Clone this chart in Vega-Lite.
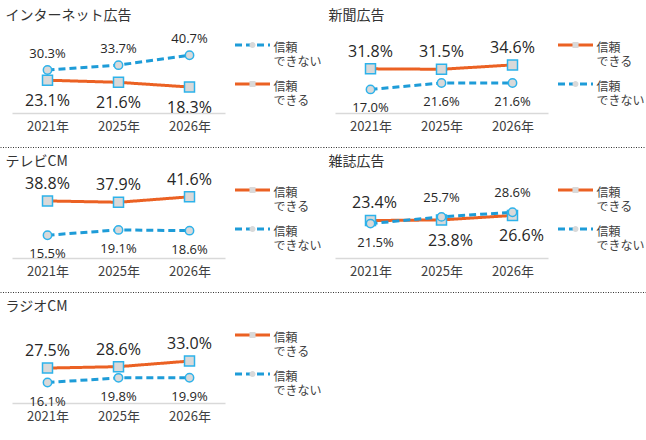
{
  "$schema": "https://vega.github.io/schema/vega-lite/v6.json",
  "padding": 0,
  "background": "white",
  "config": {"view": {"stroke": null}},
  "data": {"values": [
    {"media": "インターネット広告", "series": "信頼できる", "year": "2021年", "value": 0.231},
    {"media": "インターネット広告", "series": "信頼できる", "year": "2025年", "value": 0.216},
    {"media": "インターネット広告", "series": "信頼できる", "year": "2026年", "value": 0.183},
    {"media": "インターネット広告", "series": "信頼できない", "year": "2021年", "value": 0.303},
    {"media": "インターネット広告", "series": "信頼できない", "year": "2025年", "value": 0.337},
    {"media": "インターネット広告", "series": "信頼できない", "year": "2026年", "value": 0.407},
    {"media": "新聞広告", "series": "信頼できる", "year": "2021年", "value": 0.318},
    {"media": "新聞広告", "series": "信頼できる", "year": "2025年", "value": 0.315},
    {"media": "新聞広告", "series": "信頼できる", "year": "2026年", "value": 0.346},
    {"media": "新聞広告", "series": "信頼できない", "year": "2021年", "value": 0.170},
    {"media": "新聞広告", "series": "信頼できない", "year": "2025年", "value": 0.216},
    {"media": "新聞広告", "series": "信頼できない", "year": "2026年", "value": 0.216},
    {"media": "テレビCM", "series": "信頼できる", "year": "2021年", "value": 0.388},
    {"media": "テレビCM", "series": "信頼できる", "year": "2025年", "value": 0.379},
    {"media": "テレビCM", "series": "信頼できる", "year": "2026年", "value": 0.416},
    {"media": "テレビCM", "series": "信頼できない", "year": "2021年", "value": 0.155},
    {"media": "テレビCM", "series": "信頼できない", "year": "2025年", "value": 0.191},
    {"media": "テレビCM", "series": "信頼できない", "year": "2026年", "value": 0.186},
    {"media": "雑誌広告", "series": "信頼できる", "year": "2021年", "value": 0.234},
    {"media": "雑誌広告", "series": "信頼できる", "year": "2025年", "value": 0.238},
    {"media": "雑誌広告", "series": "信頼できる", "year": "2026年", "value": 0.266},
    {"media": "雑誌広告", "series": "信頼できない", "year": "2021年", "value": 0.215},
    {"media": "雑誌広告", "series": "信頼できない", "year": "2025年", "value": 0.257},
    {"media": "雑誌広告", "series": "信頼できない", "year": "2026年", "value": 0.286},
    {"media": "ラジオCM", "series": "信頼できる", "year": "2021年", "value": 0.275},
    {"media": "ラジオCM", "series": "信頼できる", "year": "2025年", "value": 0.286},
    {"media": "ラジオCM", "series": "信頼できる", "year": "2026年", "value": 0.330},
    {"media": "ラジオCM", "series": "信頼できない", "year": "2021年", "value": 0.161},
    {"media": "ラジオCM", "series": "信頼できない", "year": "2025年", "value": 0.198},
    {"media": "ラジオCM", "series": "信頼できない", "year": "2026年", "value": 0.199}
  ]},
  "columns": 2,
  "spacing": 0,
  "bounds": "flush",
  "align": "each",
  "resolve": {
    "scale": {"color": "independent", "strokeDash": "independent", "shape": "independent"},
    "legend": {"color": "independent", "strokeDash": "independent", "shape": "independent"}
  },
  "concat": [
    {
      "width": 323, "height": 147,
      "transform": [{"filter": "datum.media == 'インターネット広告'"}],
      "resolve": {"scale": {"x": "independent"}, "axis": {"x": "independent"}},
      "layer": [
        {
          "encoding": {
            "x": {"field": "year", "type": "ordinal", "scale": {"type": "point", "range": [12, 225], "padding": 0.5},
                  "axis": {"title": null, "orient": "bottom", "offset": -34, "domainColor": "#D9D9D9", "domainWidth": 1.5, "ticks": false, "labelFont": "Noto Sans CJK JP", "labelFontSize": 13, "labelColor": "#404040", "labelPadding": 7, "labelAngle": 0, "grid": false}},
            "y": {"field": "value", "type": "quantitative", "scale": {"domain": [0, 0.493], "range": [113, 43]}, "axis": null}
          },
          "layer": [
            {"mark": {"type": "line", "strokeWidth": 3},
             "encoding": {
               "color": {"field": "series", "type": "nominal", "scale": {"domain": ["信頼できない", "信頼できる"], "range": ["#1E9CD8", "#EB6123"]},
                         "legend": {"orient": "none", "legendX": 233.5, "legendY": 28.5, "title": null, "padding": 0, "rowPadding": -4, "symbolType": "M-1,-0.143H1", "symbolSize": 1225, "symbolStrokeWidth": 3, "labelExpr": "datum.label == '信頼できる' ? ['信頼','できる'] : ['信頼','できない']", "labelFont": "Noto Sans CJK JP", "labelFontSize": 12, "labelColor": "#404040", "labelOffset": 2}},
               "strokeDash": {"field": "series", "type": "nominal", "scale": {"domain": ["信頼できない", "信頼できる"], "range": [[7, 4], [1, 0]]},
                         "legend": {"orient": "none", "legendX": 233.5, "legendY": 28.5, "title": null, "padding": 0, "rowPadding": -4, "symbolType": "M-1,-0.143H1", "symbolSize": 1225, "symbolStrokeWidth": 3, "labelExpr": "datum.label == '信頼できる' ? ['信頼','できる'] : ['信頼','できない']", "labelFont": "Noto Sans CJK JP", "labelFontSize": 12, "labelColor": "#404040", "labelOffset": 2}}
             }},
            {"transform": [{"filter": "datum.series == '信頼できる'"}], "mark": {"type": "point", "shape": "square", "size": 100, "filled": true, "fill": "#D9D9D9", "stroke": "#2DB2EA", "strokeWidth": 1.5, "opacity": 1}},
            {"transform": [{"filter": "datum.series == '信頼できない'"}], "mark": {"type": "point", "shape": "circle", "size": 70, "filled": true, "fill": "#D9D9D9", "stroke": "#2DB2EA", "strokeWidth": 1.5, "opacity": 1}},
            {"transform": [{"filter": "false"}], "mark": {"type": "point", "filled": true, "fill": "#D9D9D9", "stroke": "#2DB2EA", "strokeWidth": 1.5},
             "encoding": {"shape": {"field": "series", "type": "nominal",
               "scale": {"domain": ["信頼できる", "信頼できない"], "range": ["M-0.165,-0.302H0.165V0.028H-0.165Z", "M0.165,-0.137A0.165,0.165,0,1,1,-0.165,-0.137A0.165,0.165,0,1,1,0.165,-0.137Z"]},
               "legend": {"orient": "none", "legendX": 233.5, "legendY": 28.5, "title": null, "padding": 0, "rowPadding": -4, "values": ["信頼できない", "信頼できる"], "symbolSize": 1332.25, "symbolStrokeWidth": 1.5, "symbolFillColor": "#D9D9D9", "symbolStrokeColor": "#2DB2EA", "symbolOpacity": 1, "labelExpr": "datum.label == '信頼できる' ? ['信頼','できる'] : ['信頼','できない']", "labelFont": "Noto Sans CJK JP", "labelFontSize": 12, "labelOpacity": 0, "labelOffset": 2}}}},
            {"transform": [{"filter": "datum.series == '信頼できない'"}], "mark": {"type": "text", "font": "Open Sans", "fontSize": 13, "color": "#262626", "baseline": "middle", "dy": -16},
             "encoding": {"text": {"field": "value", "type": "quantitative", "format": ".1%"}}},
            {"transform": [{"filter": "datum.series == '信頼できる'"}], "mark": {"type": "text", "font": "Open Sans", "fontSize": 16, "color": "#262626", "baseline": "middle", "dy": 21},
             "encoding": {"text": {"field": "value", "type": "quantitative", "format": ".1%"}}}
          ]
        },
        {
          "mark": {"type": "point", "opacity": 0},
          "encoding": {"x": {"field": "year", "type": "ordinal", "scale": {"type": "point", "range": [0, 323]},
                             "axis": {"orient": "top", "title": "インターネット広告", "titleX": 5, "titleY": 15.5, "titleAlign": "left", "titleAnchor": "start", "titleBaseline": "middle", "titleFont": "Noto Sans CJK JP", "titleFontSize": 14, "titleFontWeight": "normal", "titleColor": "#333333", "labels": false, "ticks": false, "grid": false, "domain": false}}}
        }
      ]
    },
    {
      "width": 323, "height": 147,
      "transform": [{"filter": "datum.media == '新聞広告'"}],
      "resolve": {"scale": {"x": "independent"}, "axis": {"x": "independent"}},
      "layer": [
        {
          "encoding": {
            "x": {"field": "year", "type": "ordinal", "scale": {"type": "point", "range": [12, 225], "padding": 0.5},
                  "axis": {"title": null, "orient": "bottom", "offset": -34, "domainColor": "#D9D9D9", "domainWidth": 1.5, "ticks": false, "labelFont": "Noto Sans CJK JP", "labelFontSize": 13, "labelColor": "#404040", "labelPadding": 7, "labelAngle": 0, "grid": false}},
            "y": {"field": "value", "type": "quantitative", "scale": {"domain": [0, 0.504], "range": [113, 43]}, "axis": null}
          },
          "layer": [
            {"mark": {"type": "line", "strokeWidth": 3},
             "encoding": {
               "color": {"field": "series", "type": "nominal", "scale": {"domain": ["信頼できる", "信頼できない"], "range": ["#EB6123", "#1E9CD8"]},
                         "legend": {"orient": "none", "legendX": 233.5, "legendY": 28.5, "title": null, "padding": 0, "rowPadding": -4, "symbolType": "M-1,-0.143H1", "symbolSize": 1225, "symbolStrokeWidth": 3, "labelExpr": "datum.label == '信頼できる' ? ['信頼','できる'] : ['信頼','できない']", "labelFont": "Noto Sans CJK JP", "labelFontSize": 12, "labelColor": "#404040", "labelOffset": 2}},
               "strokeDash": {"field": "series", "type": "nominal", "scale": {"domain": ["信頼できる", "信頼できない"], "range": [[1, 0], [7, 4]]},
                         "legend": {"orient": "none", "legendX": 233.5, "legendY": 28.5, "title": null, "padding": 0, "rowPadding": -4, "symbolType": "M-1,-0.143H1", "symbolSize": 1225, "symbolStrokeWidth": 3, "labelExpr": "datum.label == '信頼できる' ? ['信頼','できる'] : ['信頼','できない']", "labelFont": "Noto Sans CJK JP", "labelFontSize": 12, "labelColor": "#404040", "labelOffset": 2}}
             }},
            {"transform": [{"filter": "datum.series == '信頼できる'"}], "mark": {"type": "point", "shape": "square", "size": 100, "filled": true, "fill": "#D9D9D9", "stroke": "#2DB2EA", "strokeWidth": 1.5, "opacity": 1}},
            {"transform": [{"filter": "datum.series == '信頼できない'"}], "mark": {"type": "point", "shape": "circle", "size": 70, "filled": true, "fill": "#D9D9D9", "stroke": "#2DB2EA", "strokeWidth": 1.5, "opacity": 1}},
            {"transform": [{"filter": "false"}], "mark": {"type": "point", "filled": true, "fill": "#D9D9D9", "stroke": "#2DB2EA", "strokeWidth": 1.5},
             "encoding": {"shape": {"field": "series", "type": "nominal",
               "scale": {"domain": ["信頼できない", "信頼できる"], "range": ["M0.165,-0.137A0.165,0.165,0,1,1,-0.165,-0.137A0.165,0.165,0,1,1,0.165,-0.137Z", "M-0.165,-0.302H0.165V0.028H-0.165Z"]},
               "legend": {"orient": "none", "legendX": 233.5, "legendY": 28.5, "title": null, "padding": 0, "rowPadding": -4, "values": ["信頼できる", "信頼できない"], "symbolSize": 1332.25, "symbolStrokeWidth": 1.5, "symbolFillColor": "#D9D9D9", "symbolStrokeColor": "#2DB2EA", "symbolOpacity": 1, "labelExpr": "datum.label == '信頼できる' ? ['信頼','できる'] : ['信頼','できない']", "labelFont": "Noto Sans CJK JP", "labelFontSize": 12, "labelOpacity": 0, "labelOffset": 2}}}},
            {"transform": [{"filter": "datum.series == '信頼できる'"}], "mark": {"type": "text", "font": "Open Sans", "fontSize": 16, "color": "#262626", "baseline": "middle", "dy": -17},
             "encoding": {"text": {"field": "value", "type": "quantitative", "format": ".1%"}}},
            {"transform": [{"filter": "datum.series == '信頼できない'"}], "mark": {"type": "text", "font": "Open Sans", "fontSize": 13, "color": "#262626", "baseline": "middle", "dy": 19},
             "encoding": {"text": {"field": "value", "type": "quantitative", "format": ".1%"}}}
          ]
        },
        {
          "mark": {"type": "point", "opacity": 0},
          "encoding": {"x": {"field": "year", "type": "ordinal", "scale": {"type": "point", "range": [0, 323]},
                             "axis": {"orient": "top", "title": "新聞広告", "titleX": 5, "titleY": 15.5, "titleAlign": "left", "titleAnchor": "start", "titleBaseline": "middle", "titleFont": "Noto Sans CJK JP", "titleFontSize": 14, "titleFontWeight": "normal", "titleColor": "#333333", "labels": false, "ticks": false, "grid": false, "domain": false}}}
        }
      ]
    },
    {
      "width": 323, "height": 145,
      "transform": [{"filter": "datum.media == 'テレビCM'"}],
      "resolve": {"scale": {"x": "independent"}, "axis": {"x": "independent"}},
      "layer": [
        {
          "encoding": {
            "x": {"field": "year", "type": "ordinal", "scale": {"type": "point", "range": [12, 225], "padding": 0.5},
                  "axis": {"title": null, "orient": "bottom", "offset": -34, "domainColor": "#D9D9D9", "domainWidth": 1.5, "ticks": false, "labelFont": "Noto Sans CJK JP", "labelFontSize": 13, "labelColor": "#404040", "labelPadding": 7, "labelAngle": 0, "grid": false}},
            "y": {"field": "value", "type": "quantitative", "scale": {"domain": [0, 0.476], "range": [111, 41]}, "axis": null}
          },
          "layer": [
            {"mark": {"type": "line", "strokeWidth": 3},
             "encoding": {
               "color": {"field": "series", "type": "nominal", "scale": {"domain": ["信頼できる", "信頼できない"], "range": ["#EB6123", "#1E9CD8"]},
                         "legend": {"orient": "none", "legendX": 233.5, "legendY": 26.5, "title": null, "padding": 0, "rowPadding": -4, "symbolType": "M-1,-0.143H1", "symbolSize": 1225, "symbolStrokeWidth": 3, "labelExpr": "datum.label == '信頼できる' ? ['信頼','できる'] : ['信頼','できない']", "labelFont": "Noto Sans CJK JP", "labelFontSize": 12, "labelColor": "#404040", "labelOffset": 2}},
               "strokeDash": {"field": "series", "type": "nominal", "scale": {"domain": ["信頼できる", "信頼できない"], "range": [[1, 0], [7, 4]]},
                         "legend": {"orient": "none", "legendX": 233.5, "legendY": 26.5, "title": null, "padding": 0, "rowPadding": -4, "symbolType": "M-1,-0.143H1", "symbolSize": 1225, "symbolStrokeWidth": 3, "labelExpr": "datum.label == '信頼できる' ? ['信頼','できる'] : ['信頼','できない']", "labelFont": "Noto Sans CJK JP", "labelFontSize": 12, "labelColor": "#404040", "labelOffset": 2}}
             }},
            {"transform": [{"filter": "datum.series == '信頼できる'"}], "mark": {"type": "point", "shape": "square", "size": 100, "filled": true, "fill": "#D9D9D9", "stroke": "#2DB2EA", "strokeWidth": 1.5, "opacity": 1}},
            {"transform": [{"filter": "datum.series == '信頼できない'"}], "mark": {"type": "point", "shape": "circle", "size": 70, "filled": true, "fill": "#D9D9D9", "stroke": "#2DB2EA", "strokeWidth": 1.5, "opacity": 1}},
            {"transform": [{"filter": "false"}], "mark": {"type": "point", "filled": true, "fill": "#D9D9D9", "stroke": "#2DB2EA", "strokeWidth": 1.5},
             "encoding": {"shape": {"field": "series", "type": "nominal",
               "scale": {"domain": ["信頼できない", "信頼できる"], "range": ["M0.165,-0.137A0.165,0.165,0,1,1,-0.165,-0.137A0.165,0.165,0,1,1,0.165,-0.137Z", "M-0.165,-0.302H0.165V0.028H-0.165Z"]},
               "legend": {"orient": "none", "legendX": 233.5, "legendY": 26.5, "title": null, "padding": 0, "rowPadding": -4, "values": ["信頼できる", "信頼できない"], "symbolSize": 1332.25, "symbolStrokeWidth": 1.5, "symbolFillColor": "#D9D9D9", "symbolStrokeColor": "#2DB2EA", "symbolOpacity": 1, "labelExpr": "datum.label == '信頼できる' ? ['信頼','できる'] : ['信頼','できない']", "labelFont": "Noto Sans CJK JP", "labelFontSize": 12, "labelOpacity": 0, "labelOffset": 2}}}},
            {"transform": [{"filter": "datum.series == '信頼できる'"}], "mark": {"type": "text", "font": "Open Sans", "fontSize": 16, "color": "#262626", "baseline": "middle", "dy": -17},
             "encoding": {"text": {"field": "value", "type": "quantitative", "format": ".1%"}}},
            {"transform": [{"filter": "datum.series == '信頼できない'"}], "mark": {"type": "text", "font": "Open Sans", "fontSize": 13, "color": "#262626", "baseline": "middle", "dy": 19},
             "encoding": {"text": {"field": "value", "type": "quantitative", "format": ".1%"}}}
          ]
        },
        {
          "mark": {"type": "point", "opacity": 0},
          "encoding": {"x": {"field": "year", "type": "ordinal", "scale": {"type": "point", "range": [0, 323]},
                             "axis": {"orient": "top", "title": "テレビCM", "titleX": 5, "titleY": 14.5, "titleAlign": "left", "titleAnchor": "start", "titleBaseline": "middle", "titleFont": "Noto Sans CJK JP", "titleFontSize": 14, "titleFontWeight": "normal", "titleColor": "#333333", "labels": false, "ticks": false, "grid": false, "domain": true, "domainColor": "#333333", "domainWidth": 1, "domainDash": [1, 1.5]}}}
        }
      ]
    },
    {
      "width": 323, "height": 145,
      "transform": [{"filter": "datum.media == '雑誌広告'"}],
      "resolve": {"scale": {"x": "independent"}, "axis": {"x": "independent"}},
      "layer": [
        {
          "encoding": {
            "x": {"field": "year", "type": "ordinal", "scale": {"type": "point", "range": [12, 225], "padding": 0.5},
                  "axis": {"title": null, "orient": "bottom", "offset": -34, "domainColor": "#D9D9D9", "domainWidth": 1.5, "ticks": false, "labelFont": "Noto Sans CJK JP", "labelFontSize": 13, "labelColor": "#404040", "labelPadding": 7, "labelAngle": 0, "grid": false}},
            "y": {"field": "value", "type": "quantitative", "scale": {"domain": [0, 0.4375], "range": [111, 41]}, "axis": null}
          },
          "layer": [
            {"mark": {"type": "line", "strokeWidth": 3},
             "encoding": {
               "color": {"field": "series", "type": "nominal", "scale": {"domain": ["信頼できる", "信頼できない"], "range": ["#EB6123", "#1E9CD8"]},
                         "legend": {"orient": "none", "legendX": 233.5, "legendY": 26.5, "title": null, "padding": 0, "rowPadding": -4, "symbolType": "M-1,-0.143H1", "symbolSize": 1225, "symbolStrokeWidth": 3, "labelExpr": "datum.label == '信頼できる' ? ['信頼','できる'] : ['信頼','できない']", "labelFont": "Noto Sans CJK JP", "labelFontSize": 12, "labelColor": "#404040", "labelOffset": 2}},
               "strokeDash": {"field": "series", "type": "nominal", "scale": {"domain": ["信頼できる", "信頼できない"], "range": [[1, 0], [7, 4]]},
                         "legend": {"orient": "none", "legendX": 233.5, "legendY": 26.5, "title": null, "padding": 0, "rowPadding": -4, "symbolType": "M-1,-0.143H1", "symbolSize": 1225, "symbolStrokeWidth": 3, "labelExpr": "datum.label == '信頼できる' ? ['信頼','できる'] : ['信頼','できない']", "labelFont": "Noto Sans CJK JP", "labelFontSize": 12, "labelColor": "#404040", "labelOffset": 2}}
             }},
            {"transform": [{"filter": "datum.series == '信頼できる'"}], "mark": {"type": "point", "shape": "square", "size": 100, "filled": true, "fill": "#D9D9D9", "stroke": "#2DB2EA", "strokeWidth": 1.5, "opacity": 1}},
            {"transform": [{"filter": "datum.series == '信頼できない'"}], "mark": {"type": "point", "shape": "circle", "size": 70, "filled": true, "fill": "#D9D9D9", "stroke": "#2DB2EA", "strokeWidth": 1.5, "opacity": 1}},
            {"transform": [{"filter": "false"}], "mark": {"type": "point", "filled": true, "fill": "#D9D9D9", "stroke": "#2DB2EA", "strokeWidth": 1.5},
             "encoding": {"shape": {"field": "series", "type": "nominal",
               "scale": {"domain": ["信頼できない", "信頼できる"], "range": ["M0.165,-0.137A0.165,0.165,0,1,1,-0.165,-0.137A0.165,0.165,0,1,1,0.165,-0.137Z", "M-0.165,-0.302H0.165V0.028H-0.165Z"]},
               "legend": {"orient": "none", "legendX": 233.5, "legendY": 26.5, "title": null, "padding": 0, "rowPadding": -4, "values": ["信頼できる", "信頼できない"], "symbolSize": 1332.25, "symbolStrokeWidth": 1.5, "symbolFillColor": "#D9D9D9", "symbolStrokeColor": "#2DB2EA", "symbolOpacity": 1, "labelExpr": "datum.label == '信頼できる' ? ['信頼','できる'] : ['信頼','できない']", "labelFont": "Noto Sans CJK JP", "labelFontSize": 12, "labelOpacity": 0, "labelOffset": 2}}}},
            {"transform": [{"filter": "datum.series == '信頼できる' && datum.year == '2021年'"}], "mark": {"type": "text", "font": "Open Sans", "fontSize": 16, "color": "#262626", "baseline": "middle", "dy": -18, "dx": 4},
             "encoding": {"text": {"field": "value", "type": "quantitative", "format": ".1%"}}},
            {"transform": [{"filter": "datum.series == '信頼できる' && datum.year != '2021年'"}], "mark": {"type": "text", "font": "Open Sans", "fontSize": 16, "color": "#262626", "baseline": "middle", "dy": 21, "dx": 9},
             "encoding": {"text": {"field": "value", "type": "quantitative", "format": ".1%"}}},
            {"transform": [{"filter": "datum.series == '信頼できない' && datum.year == '2021年'"}], "mark": {"type": "text", "font": "Open Sans", "fontSize": 13, "color": "#262626", "baseline": "middle", "dy": 19, "dx": 5},
             "encoding": {"text": {"field": "value", "type": "quantitative", "format": ".1%"}}},
            {"transform": [{"filter": "datum.series == '信頼できない' && datum.year != '2021年'"}], "mark": {"type": "text", "font": "Open Sans", "fontSize": 13, "color": "#262626", "baseline": "middle", "dy": -19},
             "encoding": {"text": {"field": "value", "type": "quantitative", "format": ".1%"}}}
          ]
        },
        {
          "mark": {"type": "point", "opacity": 0},
          "encoding": {"x": {"field": "year", "type": "ordinal", "scale": {"type": "point", "range": [0, 323]},
                             "axis": {"orient": "top", "title": "雑誌広告", "titleX": 5, "titleY": 14.5, "titleAlign": "left", "titleAnchor": "start", "titleBaseline": "middle", "titleFont": "Noto Sans CJK JP", "titleFontSize": 14, "titleFontWeight": "normal", "titleColor": "#333333", "labels": false, "ticks": false, "grid": false, "domain": true, "domainColor": "#333333", "domainWidth": 1, "domainDash": [1, 1.5]}}}
        }
      ]
    },
    {
      "width": 323, "height": 148,
      "transform": [{"filter": "datum.media == 'ラジオCM'"}],
      "resolve": {"scale": {"x": "independent"}, "axis": {"x": "independent"}},
      "layer": [
        {
          "encoding": {
            "x": {"field": "year", "type": "ordinal", "scale": {"type": "point", "range": [12, 225], "padding": 0.5},
                  "axis": {"title": null, "orient": "bottom", "offset": -37, "domainColor": "#D9D9D9", "domainWidth": 1.5, "ticks": false, "labelFont": "Noto Sans CJK JP", "labelFontSize": 13, "labelColor": "#404040", "labelPadding": 7, "labelAngle": 0, "grid": false}},
            "y": {"field": "value", "type": "quantitative", "scale": {"domain": [0, 0.551], "range": [111, 41]}, "axis": null}
          },
          "layer": [
            {"mark": {"type": "line", "strokeWidth": 3},
             "encoding": {
               "color": {"field": "series", "type": "nominal", "scale": {"domain": ["信頼できる", "信頼できない"], "range": ["#EB6123", "#1E9CD8"]},
                         "legend": {"orient": "none", "legendX": 233.5, "legendY": 26.5, "title": null, "padding": 0, "rowPadding": -4, "symbolType": "M-1,-0.143H1", "symbolSize": 1225, "symbolStrokeWidth": 3, "labelExpr": "datum.label == '信頼できる' ? ['信頼','できる'] : ['信頼','できない']", "labelFont": "Noto Sans CJK JP", "labelFontSize": 12, "labelColor": "#404040", "labelOffset": 2}},
               "strokeDash": {"field": "series", "type": "nominal", "scale": {"domain": ["信頼できる", "信頼できない"], "range": [[1, 0], [7, 4]]},
                         "legend": {"orient": "none", "legendX": 233.5, "legendY": 26.5, "title": null, "padding": 0, "rowPadding": -4, "symbolType": "M-1,-0.143H1", "symbolSize": 1225, "symbolStrokeWidth": 3, "labelExpr": "datum.label == '信頼できる' ? ['信頼','できる'] : ['信頼','できない']", "labelFont": "Noto Sans CJK JP", "labelFontSize": 12, "labelColor": "#404040", "labelOffset": 2}}
             }},
            {"transform": [{"filter": "datum.series == '信頼できる'"}], "mark": {"type": "point", "shape": "square", "size": 100, "filled": true, "fill": "#D9D9D9", "stroke": "#2DB2EA", "strokeWidth": 1.5, "opacity": 1}},
            {"transform": [{"filter": "datum.series == '信頼できない'"}], "mark": {"type": "point", "shape": "circle", "size": 70, "filled": true, "fill": "#D9D9D9", "stroke": "#2DB2EA", "strokeWidth": 1.5, "opacity": 1}},
            {"transform": [{"filter": "false"}], "mark": {"type": "point", "filled": true, "fill": "#D9D9D9", "stroke": "#2DB2EA", "strokeWidth": 1.5},
             "encoding": {"shape": {"field": "series", "type": "nominal",
               "scale": {"domain": ["信頼できない", "信頼できる"], "range": ["M0.165,-0.137A0.165,0.165,0,1,1,-0.165,-0.137A0.165,0.165,0,1,1,0.165,-0.137Z", "M-0.165,-0.302H0.165V0.028H-0.165Z"]},
               "legend": {"orient": "none", "legendX": 233.5, "legendY": 26.5, "title": null, "padding": 0, "rowPadding": -4, "values": ["信頼できる", "信頼できない"], "symbolSize": 1332.25, "symbolStrokeWidth": 1.5, "symbolFillColor": "#D9D9D9", "symbolStrokeColor": "#2DB2EA", "symbolOpacity": 1, "labelExpr": "datum.label == '信頼できる' ? ['信頼','できる'] : ['信頼','できない']", "labelFont": "Noto Sans CJK JP", "labelFontSize": 12, "labelOpacity": 0, "labelOffset": 2}}}},
            {"transform": [{"filter": "datum.series == '信頼できる'"}], "mark": {"type": "text", "font": "Open Sans", "fontSize": 16, "color": "#262626", "baseline": "middle", "dy": -17},
             "encoding": {"text": {"field": "value", "type": "quantitative", "format": ".1%"}}},
            {"transform": [{"filter": "datum.series == '信頼できない'"}], "mark": {"type": "text", "font": "Open Sans", "fontSize": 13, "color": "#262626", "baseline": "middle", "dy": 19},
             "encoding": {"text": {"field": "value", "type": "quantitative", "format": ".1%"}}}
          ]
        },
        {
          "mark": {"type": "point", "opacity": 0},
          "encoding": {"x": {"field": "year", "type": "ordinal", "scale": {"type": "point", "range": [0, 646]},
                             "axis": {"orient": "top", "title": "ラジオCM", "titleX": 5, "titleY": 14.5, "titleAlign": "left", "titleAnchor": "start", "titleBaseline": "middle", "titleFont": "Noto Sans CJK JP", "titleFontSize": 14, "titleFontWeight": "normal", "titleColor": "#333333", "labels": false, "ticks": false, "grid": false, "domain": true, "domainColor": "#333333", "domainWidth": 1, "domainDash": [1, 1.5]}}}
        }
      ]
    }
  ]
}
